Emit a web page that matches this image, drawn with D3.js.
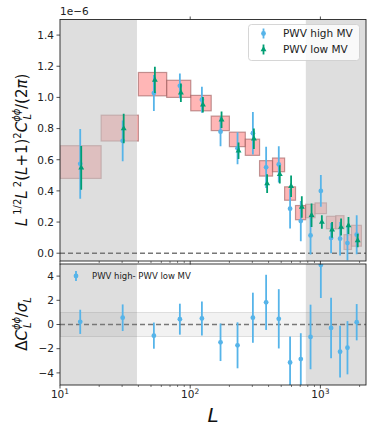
<!DOCTYPE html>
<html>
<head>
<meta charset="utf-8">
<script src="https://cdn.jsdelivr.net/npm/d3@7"></script>
<style>
  body{margin:0;background:#fff;}
  text{font-family:"DejaVu Sans",sans-serif;}
</style>
</head>
<body>
<svg id="chart"></svg>
<script>
// bins in L
var binEdges   = [10, 20.7, 40, 66, 101, 145, 200, 265, 341, 429, 531, 644, 773, 910, 1113, 1313, 1518, 1733, 2066];
var binCenters = [14.3, 30.3, 52.6, 83.3, 123, 171, 231, 303, 383, 479, 585, 707, 840, 1008, 1208, 1416, 1614, 1900];

// theory boxes (units of 1e-6)
var boxLo = [0.48, 0.72, 1.01, 1.00, 0.914, 0.787, 0.684, 0.628, 0.495, 0.523, 0.34, 0.215, 0.228, 0.254, 0.157, 0.157, 0.024, 0.045];
var boxHi = [0.69, 0.886, 1.16, 1.11, 1.013, 0.88, 0.777, 0.732, 0.594, 0.611, 0.426, 0.306, 0.314, 0.323, 0.237, 0.241, 0.119, 0.179];

// PWV high MV
var highVal = [0.574, 0.721, 1.028, 1.074, 0.985, 0.780, 0.674, 0.770, 0.551, 0.570, 0.286, 0.206, 0.114, 0.400, 0.097, 0.093, 0.065, 0.119];
var highErr = [0.224, 0.13, 0.116, 0.08, 0.083, 0.094, 0.103, 0.136, 0.133, 0.116, 0.127, 0.129, 0.123, 0.102, 0.097, 0.108, 0.11, 0.125];
// PWV low MV
var lowVal = [0.548, 0.80, 1.112, 1.03, 0.953, 0.857, 0.658, 0.735, 0.447, 0.506, 0.430, 0.297, 0.244, 0.200, 0.150, 0.168, 0.178, 0.082];
var lowErr = [0.14, 0.095, 0.084, 0.06, 0.05, 0.053, 0.053, 0.066, 0.06, 0.058, 0.069, 0.069, 0.075, 0.043, 0.05, 0.054, 0.054, 0.043];

// difference / sigma
var diffVal = [0.22, 0.56, -0.92, 0.44, 0.5, -1.47, -1.72, 0.56, 1.83, 0.47, -3.14, -2.86, -1.03, 4.92, -0.28, -2.25, -1.92, 0.19];
var diffErr = [1.0, 1.1, 1.08, 1.28, 1.4, 1.55, 1.9, 2.07, 2.28, 2.45, 2.14, 2.14, 2.67, 2.73, 2.5, 2.14, 2.2, 1.5];

var maskLow = [10, 39];
var maskHigh = [773, 2240];

var topTicks = [0, 0.2, 0.4, 0.6, 0.8, 1.0, 1.2, 1.4];
var botTicks = [-4, -2, 0, 2, 4];
var xMajor = [10, 100, 1000];

var blue = "#56B4E9", green = "#009E73";

var width = 374, height = 434;
var left = 60, right = 366;
var top1 = 19.5, bot1 = 261, top2 = 264, bot2 = 385;

var svg = d3.select("#chart").attr("width", width).attr("height", height);

var x = d3.scaleLog().domain([10, 2240]).range([left, right]);
var y1 = d3.scaleLinear().domain([-0.05, 1.5]).range([bot1, top1]);
var y2 = d3.scaleLinear().domain([-5, 5]).range([bot2, top2]);

var defs = svg.append("defs");
defs.append("clipPath").attr("id", "c1").append("rect")
    .attr("x", left).attr("y", top1).attr("width", right-left).attr("height", bot1-top1);
defs.append("clipPath").attr("id", "c2").append("rect")
    .attr("x", left).attr("y", top2).attr("width", right-left).attr("height", bot2-top2);

var minor = [];
[10, 100, 1000].forEach(function(d){
  for(var k=2;k<10;k++){ if(d*k<2240) minor.push(d*k); }
});

function errPanel(g, yS, vals, errs, color, shift, marker){
  var pts = vals.map(function(v,i){ return {L: binCenters[i]*shift, v:v, e:errs[i]}; });
  g.selectAll(null).data(pts).enter().append("line")
    .attr("x1", function(d){return x(d.L);}).attr("x2", function(d){return x(d.L);})
    .attr("y1", function(d){return yS(d.v-d.e);}).attr("y2", function(d){return yS(d.v+d.e);})
    .attr("stroke", color).attr("stroke-width", 1.8);
  if(marker==="o"){
    g.selectAll(null).data(pts).enter().append("circle")
      .attr("cx", function(d){return x(d.L);}).attr("cy", function(d){return yS(d.v);})
      .attr("r", 2.4).attr("fill", color);
  } else {
    g.selectAll(null).data(pts).enter().append("path")
      .attr("d", d3.symbol().type(d3.symbolTriangle).size(15))
      .attr("transform", function(d){return "translate("+x(d.L)+","+yS(d.v)+")";})
      .attr("fill", color);
  }
}

// ---------- top panel
var g1 = svg.append("g").attr("clip-path", "url(#c1)");
g1.selectAll(null).data(binCenters).enter().append("rect")
  .attr("x", function(d,i){return x(binEdges[i]);})
  .attr("width", function(d,i){return x(binEdges[i+1])-x(binEdges[i]);})
  .attr("y", function(d,i){return y1(boxHi[i]);})
  .attr("height", function(d,i){return y1(boxLo[i])-y1(boxHi[i]);})
  .attr("fill", "#ff9d9d").attr("fill-opacity", 0.75)
  .attr("stroke", "#9a5a5a").attr("stroke-opacity", 0.6).attr("stroke-width", 1.2);
[maskLow, maskHigh].forEach(function(m){
  g1.append("rect").attr("x", x(m[0])).attr("width", x(m[1])-x(m[0]))
    .attr("y", top1).attr("height", bot1-top1)
    .attr("fill", "#c6c6c6").attr("fill-opacity", 0.58);
});
g1.append("line").attr("x1", left).attr("x2", right).attr("y1", y1(0)).attr("y2", y1(0))
  .attr("stroke", "#777").attr("stroke-width", 1.5).attr("stroke-dasharray", "5,3");
errPanel(g1, y1, highVal, highErr, blue, 1.0, "o");
errPanel(g1, y1, lowVal, lowErr, green, 1.018, "^");

// ---------- bottom panel
var g2 = svg.append("g").attr("clip-path", "url(#c2)");
[maskLow, maskHigh].forEach(function(m){
  g2.append("rect").attr("x", x(m[0])).attr("width", x(m[1])-x(m[0]))
    .attr("y", top2).attr("height", bot2-top2)
    .attr("fill", "#c6c6c6").attr("fill-opacity", 0.58);
});
g2.append("rect").attr("x", left).attr("width", right-left)
  .attr("y", y2(1)).attr("height", y2(-1)-y2(1))
  .attr("fill", "#808080").attr("fill-opacity", 0.1)
  .attr("stroke", "#808080").attr("stroke-opacity", 0.25).attr("stroke-width", 0.8);
g2.append("line").attr("x1", left).attr("x2", right).attr("y1", y2(0)).attr("y2", y2(0))
  .attr("stroke", "#777").attr("stroke-width", 1.5).attr("stroke-dasharray", "5,3");
errPanel(g2, y2, diffVal, diffErr, blue, 1.0, "o");

// ---------- axes
function yAxis(yS, ticks, fmt){
  var ax = svg.append("g");
  ticks.forEach(function(t){
    ax.append("line").attr("x1", left-3.5).attr("x2", left).attr("y1", yS(t)).attr("y2", yS(t))
      .attr("stroke", "#222").attr("stroke-width", 0.8);
    ax.append("text").attr("x", left-6).attr("y", yS(t)).attr("dy", "0.36em")
      .attr("text-anchor", "end").attr("font-size", 10.5).attr("fill", "#222").text(fmt(t));
  });
}
yAxis(y1, topTicks, function(t){return t.toFixed(1);});
yAxis(y2, botTicks, function(t){return t<0 ? "\u2212"+Math.abs(t) : ""+t;});

function xTicks(yBase, dir){
  var ax = svg.append("g");
  xMajor.forEach(function(t){
    ax.append("line").attr("x1", x(t)).attr("x2", x(t)).attr("y1", yBase).attr("y2", yBase+dir*3.5)
      .attr("stroke", "#222").attr("stroke-width", 0.8);
  });
  minor.forEach(function(t){
    ax.append("line").attr("x1", x(t)).attr("x2", x(t)).attr("y1", yBase).attr("y2", yBase+dir*2)
      .attr("stroke", "#222").attr("stroke-width", 0.6);
  });
}
xTicks(bot1, 1);
xTicks(bot2, 1);
// top edge major marks
xMajor.slice(1).forEach(function(t){
  svg.append("line").attr("x1", x(t)).attr("x2", x(t)).attr("y1", top1).attr("y2", top1-3)
    .attr("stroke", "#222").attr("stroke-width", 0.8);
});

xMajor.forEach(function(t){
  var tx = svg.append("text").attr("x", x(t)).attr("y", 398).attr("text-anchor", "middle")
    .attr("font-size", 10.5).attr("fill", "#222");
  tx.append("tspan").text("10");
  tx.append("tspan").attr("dy", -4).attr("font-size", 7.5).text(Math.round(Math.log10(t)));
});

// frames
[[top1, bot1], [top2, bot2]].forEach(function(f){
  svg.append("rect").attr("x", left).attr("y", f[0]).attr("width", right-left).attr("height", f[1]-f[0])
    .attr("fill", "none").attr("stroke", "#222").attr("stroke-width", 0.9);
});

svg.append("text").attr("x", left).attr("y", 15).attr("font-size", 10.5).attr("fill", "#222").text("1e\u22126");

// axis labels
var yl1 = svg.append("text").attr("transform", "translate(27,150) rotate(-90)")
  .attr("text-anchor", "middle").attr("font-size", 15).attr("fill", "#111");
yl1.append("tspan").attr("font-style", "italic").text("L");
yl1.append("tspan").attr("dy", -6).attr("font-size", 10).text(" 1/2");
yl1.append("tspan").attr("dy", 6).attr("font-style", "italic").text("L");
yl1.append("tspan").attr("dy", -6).attr("font-size", 10).text(" 2");
yl1.append("tspan").attr("dy", 6).text("(");
yl1.append("tspan").attr("font-style", "italic").text("L");
yl1.append("tspan").text("+1)");
yl1.append("tspan").attr("dy", -6).attr("font-size", 10).text("2");
yl1.append("tspan").attr("dy", 6).attr("font-style", "italic").text("C");
yl1.append("tspan").attr("dy", -7).attr("font-size", 10).attr("font-style", "italic").text("\u03d5\u03d5");
yl1.append("tspan").attr("dx", -11).attr("dy", 11).attr("font-size", 10).attr("font-style", "italic").text("L");
yl1.append("tspan").attr("dx", 5).attr("dy", -4).text("/(2");
yl1.append("tspan").attr("font-style", "italic").text("\u03c0");
yl1.append("tspan").text(")");

var yl2 = svg.append("text").attr("transform", "translate(27,324) rotate(-90)")
  .attr("text-anchor", "middle").attr("font-size", 15).attr("fill", "#111");
yl2.append("tspan").text("\u0394");
yl2.append("tspan").attr("font-style", "italic").text("C");
yl2.append("tspan").attr("dy", -7).attr("font-size", 10).attr("font-style", "italic").text("\u03d5\u03d5");
yl2.append("tspan").attr("dx", -11).attr("dy", 11).attr("font-size", 10).attr("font-style", "italic").text("L");
yl2.append("tspan").attr("dx", 5).attr("dy", -4).text("/");
yl2.append("tspan").attr("font-style", "italic").text("\u03c3");
yl2.append("tspan").attr("dy", 4).attr("font-size", 10).attr("font-style", "italic").text("L");

svg.append("text").attr("x", 213).attr("y", 422).attr("text-anchor", "middle")
  .attr("font-size", 20).attr("font-style", "italic").attr("fill", "#111").text("L");

// legends
var lg = svg.append("g");
lg.append("rect").attr("x", 248.5).attr("y", 24.5).attr("width", 111).attr("height", 36).attr("rx", 3)
  .attr("fill", "#fff").attr("fill-opacity", 0.8).attr("stroke", "#ccc").attr("stroke-width", 0.8);
var legItems = [{label:"PWV high MV", color:blue, m:"o", y:33.5}, {label:"PWV low MV", color:green, m:"^", y:49.5}];
legItems.forEach(function(d){
  lg.append("line").attr("x1", 263.5).attr("x2", 263.5).attr("y1", d.y-5).attr("y2", d.y+5)
    .attr("stroke", d.color).attr("stroke-width", 1.8);
  if(d.m==="o") lg.append("circle").attr("cx", 263.5).attr("cy", d.y).attr("r", 2.4).attr("fill", d.color);
  else lg.append("path").attr("d", d3.symbol().type(d3.symbolTriangle).size(15)())
    .attr("transform", "translate(263.5,"+d.y+")").attr("fill", d.color);
  lg.append("text").attr("x", 283).attr("y", d.y).attr("dy", "0.36em").attr("font-size", 10.5)
    .attr("fill", "#222").text(d.label);
});
svg.append("line").attr("x1", 76).attr("x2", 76).attr("y1", 271).attr("y2", 281).attr("stroke", blue).attr("stroke-width", 1.8);
svg.append("circle").attr("cx", 76).attr("cy", 276).attr("r", 2.4).attr("fill", blue);
svg.append("text").attr("x", 92).attr("y", 276).attr("dy", "0.36em").attr("font-size", 8.5)
  .attr("fill", "#222").text("PWV high- PWV low MV");
</script>
</body>
</html>
